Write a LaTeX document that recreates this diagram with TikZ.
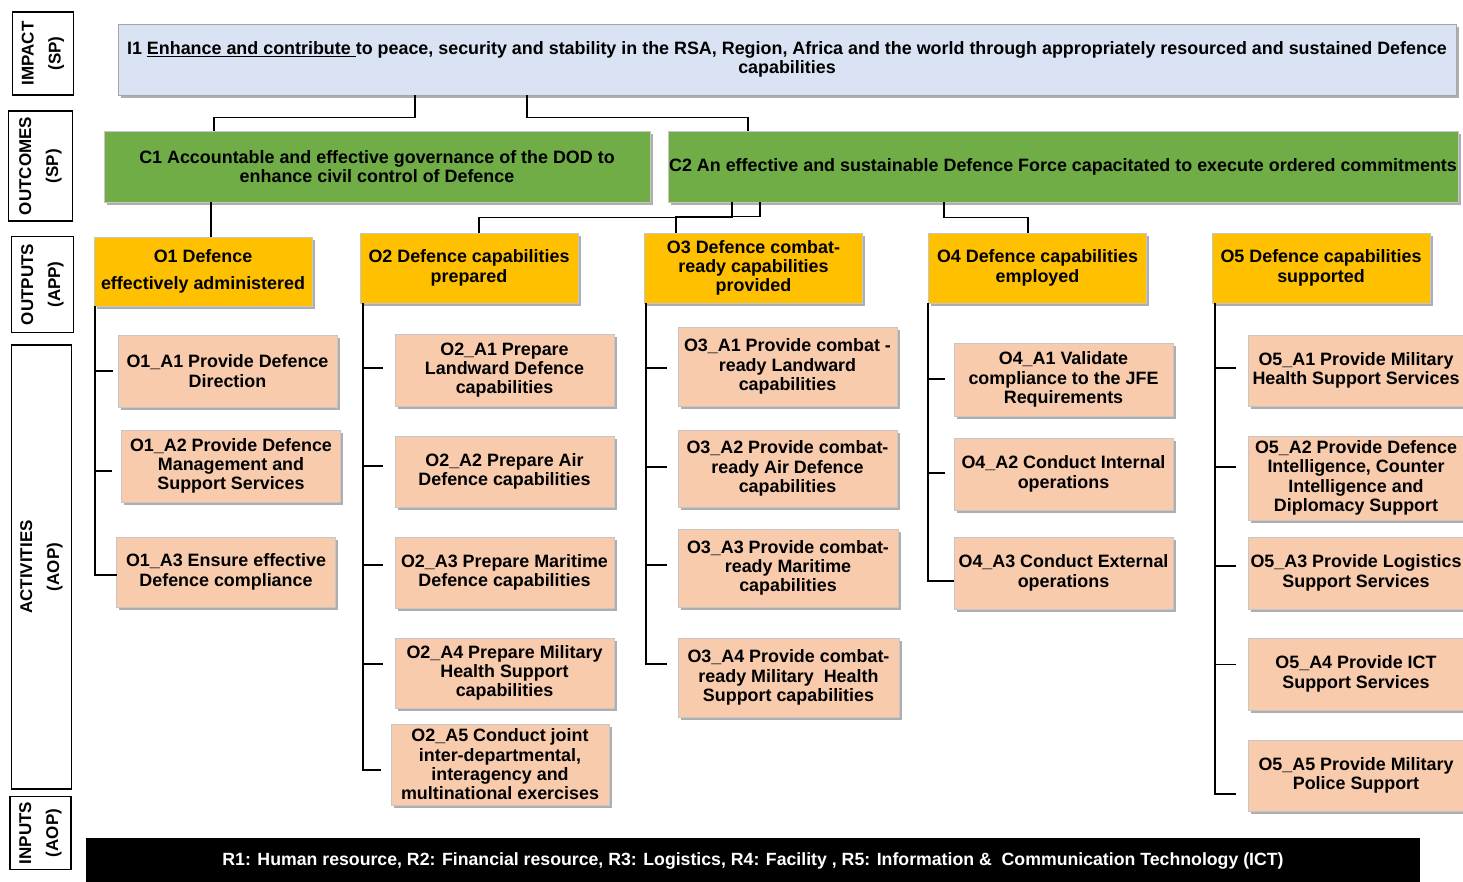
\documentclass[tikz,border=0pt]{standalone}
\usepackage{fontspec}
\setmainfont{Liberation Sans}
\usetikzlibrary{shadows}
\definecolor{impc}{HTML}{DAE3F3}
\definecolor{grn}{HTML}{70AD47}
\definecolor{ylw}{HTML}{FFC000}
\definecolor{pch}{HTML}{F8CBAD}
\tikzset{
  box/.style={draw=gray!45, line width=0.6pt, inner sep=0pt, align=center,
    font=\bfseries\fontsize{17.9}{19.3}\selectfont,
    drop shadow={shadow xshift=2.5pt, shadow yshift=-2.5pt, fill=black!70, opacity=0.45}},
  act/.style={box, fill=pch, minimum width=219pt},
  outp/.style={box, fill=ylw, minimum width=218pt, minimum height=70pt},
  outc/.style={box, fill=grn, minimum height=71pt},
  lab/.style={draw=black, line width=1.5pt, fill=white, align=center, inner sep=0pt,
    rotate=90, font=\bfseries\fontsize{17}{27}\selectfont},
  conn/.style={draw=black, line width=1.3pt}
}
\begin{document}
\begin{tikzpicture}[x=1pt,y=-1pt]
\useasboundingbox (0,0) rectangle (1463,881);
% side labels
\node[lab, minimum width=83pt, minimum height=61pt] (limp) at (43,53.5) {IMPACT\\(SP)};
\node[lab, minimum width=110pt, minimum height=64pt] (lout) at (40.5,166) {OUTCOMES\\(SP)};
\node[lab, minimum width=96pt, minimum height=62pt] (lopt) at (42.5,284.5) {OUTPUTS\\(APP)};
\node[lab, minimum width=444pt, minimum height=60pt] (lact) at (41.5,567) {ACTIVITIES\\(AOP)};
\node[lab, minimum width=73pt, minimum height=61pt] (linp) at (40.5,833) {INPUTS\\(AOP)};
% impact
\node[box, fill=impc, draw=gray!70, minimum width=1338pt, minimum height=71pt] (imp) at (787,59.5)
 {I1 \underline{Enhance and contribute\ }to peace, security and stability in the RSA, Region, Africa and the world through appropriately resourced and sustained Defence\\capabilities};
% outcomes
\node[outc, minimum width=546pt] (c1) at (377,166.5) {C1 Accountable and effective governance of the DOD to\\enhance civil control of Defence};
\node[outc, minimum width=790pt] (c2) at (1063,166.5) {C2 An effective and sustainable Defence Force capacitated to execute ordered commitments};
% outputs
\node[outp, minimum height=69pt] (o1) at (203,271.5) {O1 Defence\\[7.7pt]effectively administered};
\node[outp] (o2) at (469,268) {O2 Defence capabilities\\prepared};
\node[outp] (o3) at (753.5,268) {O3 Defence combat-\\ready capabilities\\provided};
\node[outp] (o4) at (1037.5,268) {O4 Defence capabilities\\employed};
\node[outp] (o5) at (1321,268) {O5 Defence capabilities\\supported};
% activities O1
\node[act, minimum height=72pt] (a11) at (227.5,371) {O1\_A1 Provide Defence\\Direction};
\node[act, minimum height=72pt] (a12) at (231,466) {O1\_A2 Provide Defence\\Management and\\Support Services};
\node[act, minimum height=70pt] (a13) at (226,572) {O1\_A3 Ensure effective\\Defence compliance};
% activities O2
\node[act, minimum height=72pt] (a21) at (504.5,370) {O2\_A1 Prepare\\Landward Defence\\capabilities};
\node[act, minimum height=71pt] (a22) at (504.5,471.5) {O2\_A2 Prepare Air\\Defence capabilities};
\node[act, minimum height=71pt] (a23) at (504.5,572.5) {O2\_A3 Prepare Maritime\\Defence capabilities};
\node[act, minimum height=70pt] (a24) at (504.5,673) {O2\_A4 Prepare Military\\Health Support\\capabilities};
\node[act, minimum height=81pt, minimum width=218pt] (a25) at (500,764.5) {O2\_A5 Conduct joint\\inter-departmental,\\interagency and\\multinational exercises};
% activities O3
\node[act, minimum height=79pt] (a31) at (787.5,366.5) {O3\_A1 Provide combat -\\ready Landward\\capabilities};
\node[act, minimum height=77pt] (a32) at (787.5,468.5) {O3\_A2 Provide combat-\\ready Air Defence\\capabilities};
\node[act, minimum height=78pt, minimum width=220pt] (a33) at (788,568) {O3\_A3 Provide combat-\\ready Maritime\\capabilities};
\node[act, minimum height=79pt, minimum width=221pt] (a34) at (788.5,677.5) {O3\_A4 Provide combat-\\ready Military\ \ Health\\Support capabilities};
% activities O4
\node[act, minimum height=73pt] (a41) at (1063.5,379.5) {O4\_A1 Validate\\compliance to the JFE\\Requirements};
\node[act, minimum height=72pt] (a42) at (1063.5,474) {O4\_A2 Conduct Internal\\operations};
\node[act, minimum height=72pt] (a43) at (1063.5,573) {O4\_A3 Conduct External\\operations};
% activities O5
\node[act, minimum height=71pt, minimum width=216pt] (a51) at (1356,370.5) {O5\_A1 Provide Military\\Health Support Services};
\node[act, minimum height=84pt, minimum width=216pt] (a52) at (1356,478) {O5\_A2 Provide Defence\\Intelligence, Counter\\Intelligence and\\Diplomacy Support};
\node[act, minimum height=72pt, minimum width=216pt] (a53) at (1356,573) {O5\_A3 Provide Logistics\\Support Services};
\node[act, minimum height=72pt, minimum width=216pt] (a54) at (1356,674) {O5\_A4 Provide ICT\\Support Services};
\node[act, minimum height=71pt, minimum width=216pt] (a55) at (1356,775.5) {O5\_A5 Provide Military\\Police Support};
% inputs
\node[fill=black, text=white, inner sep=0pt, minimum width=1334pt, minimum height=46pt,
  font=\bfseries\fontsize{17.7}{19.3}\selectfont] (inp) at (753,861)
  {R1: Human resource, R2: Financial resource, R3: Logistics, R4: Facility , R5: Information \&\ \ Communication Technology (ICT)};
% connectors impact -> outcomes
\draw[conn] ([xshift=-372pt]imp.south) -- ++(0,22) -| ([xshift=-163pt]c1.north);
\draw[conn] ([xshift=-260pt]imp.south) -- ++(0,22) -| ([xshift=-315pt]c2.north);
% outcomes -> outputs
\draw[conn] ([xshift=-166pt]c1.south) -- ([xshift=-166pt]c1.south |- o1.north);
\draw[conn] ([xshift=-331pt]c2.south) -- ++(0,15) -| ([xshift=10pt]o2.north);
\draw[conn] ([xshift=-303pt]c2.south) -- ++(0,14) -| ([xshift=-77.5pt]o3.north);
\draw[conn] ([xshift=-119pt]c2.south) -- ++(0,15) -| ([xshift=-9.5pt]o4.north);
% trunk coordinates and branch ends
\coordinate (k1) at (95,0);
\coordinate (k2) at (363,0);
\coordinate (k3) at (646,0);
\coordinate (k4) at (928,0);
\coordinate (k5) at (1215,0);
\coordinate (e11) at (113,371);
\coordinate (e12) at (112,471);
\coordinate (e13) at (117,575);
\coordinate (e21) at (383,368);
\coordinate (e22) at (383,466);
\coordinate (e23) at (383,565);
\coordinate (e24) at (383,664);
\coordinate (e25) at (381,770);
\coordinate (e31) at (667,368);
\coordinate (e32) at (667,467);
\coordinate (e33) at (667,565);
\coordinate (e34) at (667,664);
\coordinate (e41) at (945,379);
\coordinate (e42) at (945,473);
\coordinate (e43) at (954,581);
\coordinate (e51) at (1236,368);
\coordinate (e52) at (1236,467);
\coordinate (e53) at (1236,566);
\coordinate (e54) at (1236,664.5);
\coordinate (e55) at (1236,794);
% trunks
\draw[conn, line width=1.6pt] (k1 |- o1.south) -- (k1 |- e13) -- (e13);
\draw[conn] (k2 |- o2.south) -- (k2 |- e25) -- (e25);
\draw[conn] (k3 |- o3.south) -- (k3 |- e34) -- (e34);
\draw[conn] (k4 |- o4.south) -- (k4 |- e43) -- (e43);
\draw[conn] (k5 |- o5.south) -- (k5 |- e55) -- (e55);
% branches
\foreach \e/\k in {e11/k1,e12/k1,e21/k2,e22/k2,e23/k2,e24/k2,e31/k3,e32/k3,e33/k3,e41/k4,e42/k4,e51/k5,e52/k5,e53/k5,e54/k5}
  \draw[conn] (\k |- \e) -- (\e);
\end{tikzpicture}
\end{document}
